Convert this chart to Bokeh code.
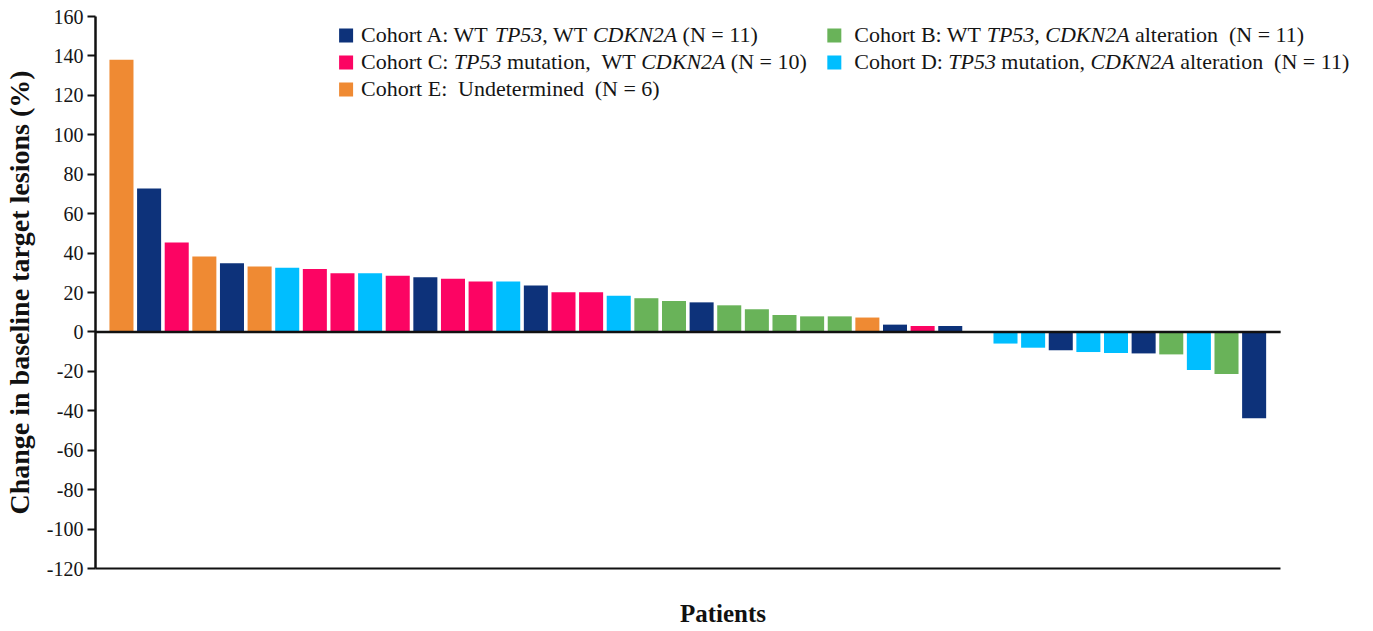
import re
from bokeh.plotting import figure
from bokeh.models import Range1d, FixedTicker, ColumnDataSource
from bokeh.embed import file_html
from bokeh.resources import INLINE
from bokeh.core.properties import value

# ---------------- data ----------------
cohorts = ["E", "A", "C", "E", "A", "E", "D", "C", "C", "D",
           "C", "A", "C", "C", "D", "A", "C", "C", "D", "B",
           "B", "A", "B", "B", "B", "B", "B", "E", "A", "C",
           "A", "E", "D", "D", "A", "D", "D", "A", "B", "D",
           "B", "A"]
changes = [138.0, 72.7, 45.4, 38.2, 34.8, 33.2, 32.6, 31.9, 29.8, 29.8,
           28.5, 27.7, 27.0, 25.6, 25.6, 23.5, 20.1, 20.1, 18.4, 17.1,
           15.7, 15.0, 13.5, 11.5, 8.6, 7.9, 7.9, 7.3, 3.7, 3.0,
           3.0, 0.0, -5.9, -8.0, -9.3, -10.2, -10.7, -10.9, -11.4, -19.3,
           -21.3, -43.8]
cohort_keys = ["A", "B", "C", "D", "E"]
cohort_colors = {"A": "#0D327A", "B": "#69B359", "C": "#FC0463",
                 "D": "#00BEFF", "E": "#EF8A33"}
y_ticks = list(range(-120, 161, 20))
y_tick_labels = {t: str(t) for t in y_ticks}

# legend texts: (piece, italic)
legend_texts = {
    "A": [("Cohort A: WT ", False), ("TP53", True), (", WT ", False),
          ("CDKN2A", True), (" (N = 11)", False)],
    "B": [("Cohort B: WT ", False), ("TP53", True), (", ", False),
          ("CDKN2A", True), (" alteration  (N = 11)", False)],
    "C": [("Cohort C: ", False), ("TP53", True), (" mutation,  WT ", False),
          ("CDKN2A", True), (" (N = 10)", False)],
    "D": [("Cohort D: ", False), ("TP53", True), (" mutation, ", False),
          ("CDKN2A", True), (" alteration  (N = 11)", False)],
    "E": [("Cohort E:  Undetermined  (N = 6)", False)],
}

# ---------------- geometry helpers (styling) ----------------
W, H = 1357, 630
FL, FR, FT, FB = 93, 1350, 16, 568
OX, OY = 4, 1          # page offset of the canvas
X0 = -0.94
PITCH = 27.67
X1 = X0 + (FR - FL) / PITCH
Y0, Y1 = -120, 160


def px_x(page_x):
    return X0 + (page_x - OX - FL) / PITCH


def px_y(page_y):
    return Y1 - (page_y - OY - FT) * (Y1 - Y0) / (FB - FT)


REG = {" ": 250, "(": 333, ")": 333, ",": 250, ":": 278, "=": 564,
       "A": 722, "B": 667, "C": 667, "D": 722, "E": 611, "K": 722, "N": 722,
       "P": 556, "T": 611, "U": 722, "W": 944,
       "a": 444, "b": 500, "c": 444, "d": 500, "e": 444, "h": 500, "i": 278,
       "l": 278, "m": 778, "n": 500, "o": 500, "r": 333, "s": 389, "t": 278,
       "u": 500}
ITA = {"T": 556, "P": 611, "C": 667, "D": 722, "K": 667, "N": 667, "A": 611}
FS = 22


def text_w(s, italic):
    tot = 0
    for ch in s:
        if ch.isdigit():
            tot += 500
        elif italic and ch in ITA:
            tot += ITA[ch]
        else:
            tot += REG.get(ch, 500)
    return tot / 1000.0 * FS


# legend layout (page px): square centre x, text start x, row centre y
leg_pos = {"A": (348, 363, 35), "C": (348, 363, 62), "E": (348, 363, 89),
           "B": (837, 857, 35), "D": (837, 857, 62)}

sq_x, sq_y, sq_c = [], [], []
tx, ty, tt, tstyle = [], [], [], []
for k in cohort_keys:
    sx, txt_x, row_y = leg_pos[k]
    sq_x.append(px_x(sx))
    sq_y.append(px_y(row_y + 1))
    sq_c.append(cohort_colors[k])
    cur = txt_x
    for piece, it in legend_texts[k]:
        for chunk in re.split(r"( {2,})", piece):
            if chunk == "":
                continue
            core = chunk.strip(" ")
            if core == "":
                cur += text_w(chunk, it)
                continue
            lead = len(chunk) - len(chunk.lstrip(" "))
            cur += text_w(" " * lead, it)
            tx.append(px_x(cur))
            ty.append(px_y(row_y))
            tt.append(core)
            tstyle.append("italic" if it else "normal")
            cur += text_w(chunk.lstrip(" "), it)

# ---------------- figure ----------------
p = figure(width=W, height=H, x_range=Range1d(X0, X1), y_range=Range1d(Y0, Y1),
           output_backend="svg", toolbar_location=None,
           min_border_left=FL, min_border_right=W - FR,
           min_border_top=FT, min_border_bottom=H - FB)
p.grid.visible = False
p.outline_line_color = None
p.background_fill_color = "white"

src = ColumnDataSource(dict(x=list(range(len(changes))), top=changes,
                            color=[cohort_colors[c] for c in cohorts]))
p.vbar(x="x", top="top", bottom=0, width=0.87, fill_color="color",
       line_color=None, source=src)

p.segment(x0=[X0], y0=[0], x1=[len(changes) - 0.04], y1=[0],
          line_color="#111111", line_width=2.5)

p.scatter(x=sq_x, y=sq_y, marker="square", size=14, fill_color=sq_c,
          line_color=None)
p.text(x="x", y="y", text="text", source=ColumnDataSource(
    dict(x=tx, y=ty, text=tt, style=tstyle)),
    text_font=value("Liberation Serif"), text_font_size=f"{FS}px",
    text_font_style="style", text_baseline="middle", text_align="left",
    text_color="#151515")

# y axis
ya = p.yaxis[0]
ya.ticker = FixedTicker(ticks=y_ticks)
ya.major_label_overrides = y_tick_labels
ya.axis_line_width = 2.5
ya.axis_line_color = "#111111"
ya.major_tick_line_width = 2
ya.major_tick_line_color = "#111111"
ya.major_tick_out = 8
ya.major_tick_in = 0
ya.minor_tick_out = 0
ya.minor_tick_in = 0
ya.major_label_text_font = "Liberation Serif"
ya.major_label_text_font_size = "20px"
ya.major_label_text_color = "#151515"
ya.major_label_standoff = 4
ya.axis_label = "Change in baseline target lesions (%)"
ya.axis_label_text_font = "Liberation Serif"
ya.axis_label_text_font_size = "28px"
ya.axis_label_text_font_style = "bold"
ya.axis_label_text_color = "#111111"
ya.axis_label_standoff = 9

# x axis (bottom line only)
xa = p.xaxis[0]
xa.ticker = FixedTicker(ticks=[])
xa.bounds = (X0, len(changes) - 0.04)
xa.axis_line_width = 2
xa.axis_line_color = "#111111"
xa.major_tick_out = 0
xa.major_tick_in = 0
xa.minor_tick_out = 0
xa.minor_tick_in = 0
xa.major_label_text_font_size = "0px"
xa.axis_label = "Patients"
xa.axis_label_text_font = "Liberation Serif"
xa.axis_label_text_font_size = "25px"
xa.axis_label_text_font_style = "bold"
xa.axis_label_text_color = "#111111"
xa.axis_label_standoff = 31

open("out.html", "w").write(file_html(p, INLINE))
